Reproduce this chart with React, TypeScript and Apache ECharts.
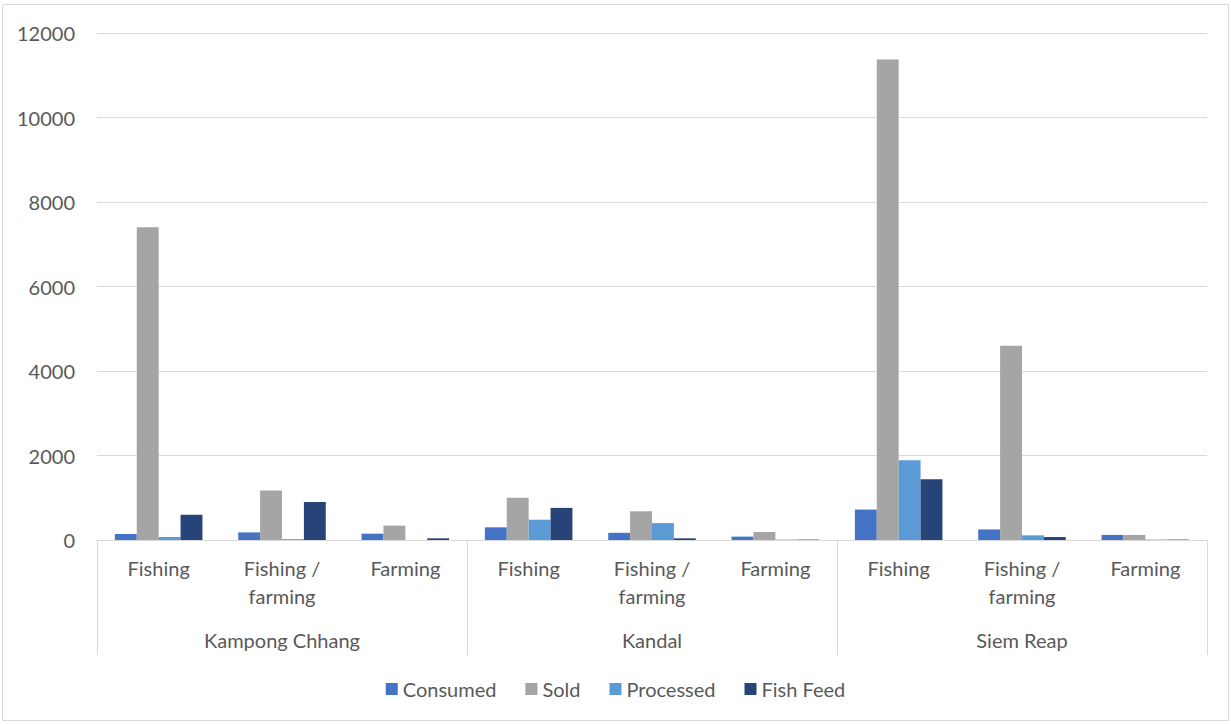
import React, { useEffect, useRef } from "react";
import * as echarts from "echarts";

const regions = ["Kampong Chhang", "Kandal", "Siem Reap"];
const subCategories = ["Fishing", "Fishing /\nfarming", "Farming", "Fishing", "Fishing /\nfarming", "Farming", "Fishing", "Fishing /\nfarming", "Farming"];
const seriesNames = ["Consumed", "Sold", "Processed", "Fish Feed"];
const consumed = [140, 180, 150, 300, 170, 80, 720, 250, 120];
const sold = [7400, 1170, 340, 1000, 680, 190, 11370, 4600, 120];
const processed = [70, 20, 0, 480, 400, 10, 1890, 110, 10];
const fishFeed = [600, 900, 40, 760, 40, 10, 1440, 70, 10];
const colors = ["#4472C4", "#A5A5A5", "#5B9BD5", "#264478"];

export default function App() {
  const ref = useRef<HTMLDivElement>(null);
  useEffect(() => {
    if (!ref.current) return;
    const chart = echarts.init(ref.current, null, { renderer: "svg" });
    const font = "Lato, 'Open Sans', sans-serif";
    const data = [consumed, sold, processed, fishFeed];
    chart.setOption({
      animation: false,
      textStyle: { fontFamily: font },
      grid: { left: 97, right: 24, top: 33, bottom: 184 },
      legend: {
        bottom: 20,
        left: "center",
        itemWidth: 12,
        itemHeight: 12,
        itemGap: 29,
        icon: "rect",
        textStyle: { fontFamily: font, fontSize: 20, color: "#595959" },
        data: seriesNames,
      },
      xAxis: [
        {
          type: "category",
          data: subCategories,
          axisLine: { show: true, lineStyle: { color: "#D9D9D9", width: 1 } },
          axisTick: { show: false },
          axisLabel: { interval: 0, margin: 14, fontSize: 20, color: "#595959", fontFamily: font, lineHeight: 28 },
        },
        {
          type: "category",
          data: regions,
          position: "bottom",
          axisLine: { show: false },
          axisTick: { show: true, length: 115, interval: 0, lineStyle: { color: "#D9D9D9", width: 1 } },
          axisLabel: { interval: 0, margin: 90, fontSize: 20, color: "#595959", fontFamily: font },
        },
      ],
      yAxis: {
        type: "value",
        min: 0,
        max: 12000,
        interval: 2000,
        axisLine: { show: false },
        axisTick: { show: false },
        splitLine: { lineStyle: { color: "#D9D9D9", width: 1 } },
        axisLabel: { margin: 22, fontSize: 20, color: "#595959", fontFamily: font, formatter: (v: number) => String(v) },
      },
      graphic: [
        {
          type: "rect",
          shape: { x: 2.5, y: 4.5, width: 1226, height: 716 },
          style: { fill: "none", stroke: "#D9D9D9", lineWidth: 1 },
          silent: true,
        },
      ],
      series: seriesNames.map((name, i) => ({
        name,
        type: "bar",
        xAxisIndex: 0,
        data: data[i],
        barGap: "0%",
        barCategoryGap: "29%",
        itemStyle: { color: colors[i] },
      })),
    });
    return () => chart.dispose();
  }, []);
  return <div ref={ref} style={{ position: "fixed", left: 0, top: 0, width: 1231, height: 724, background: "#fff" }} />;
}
